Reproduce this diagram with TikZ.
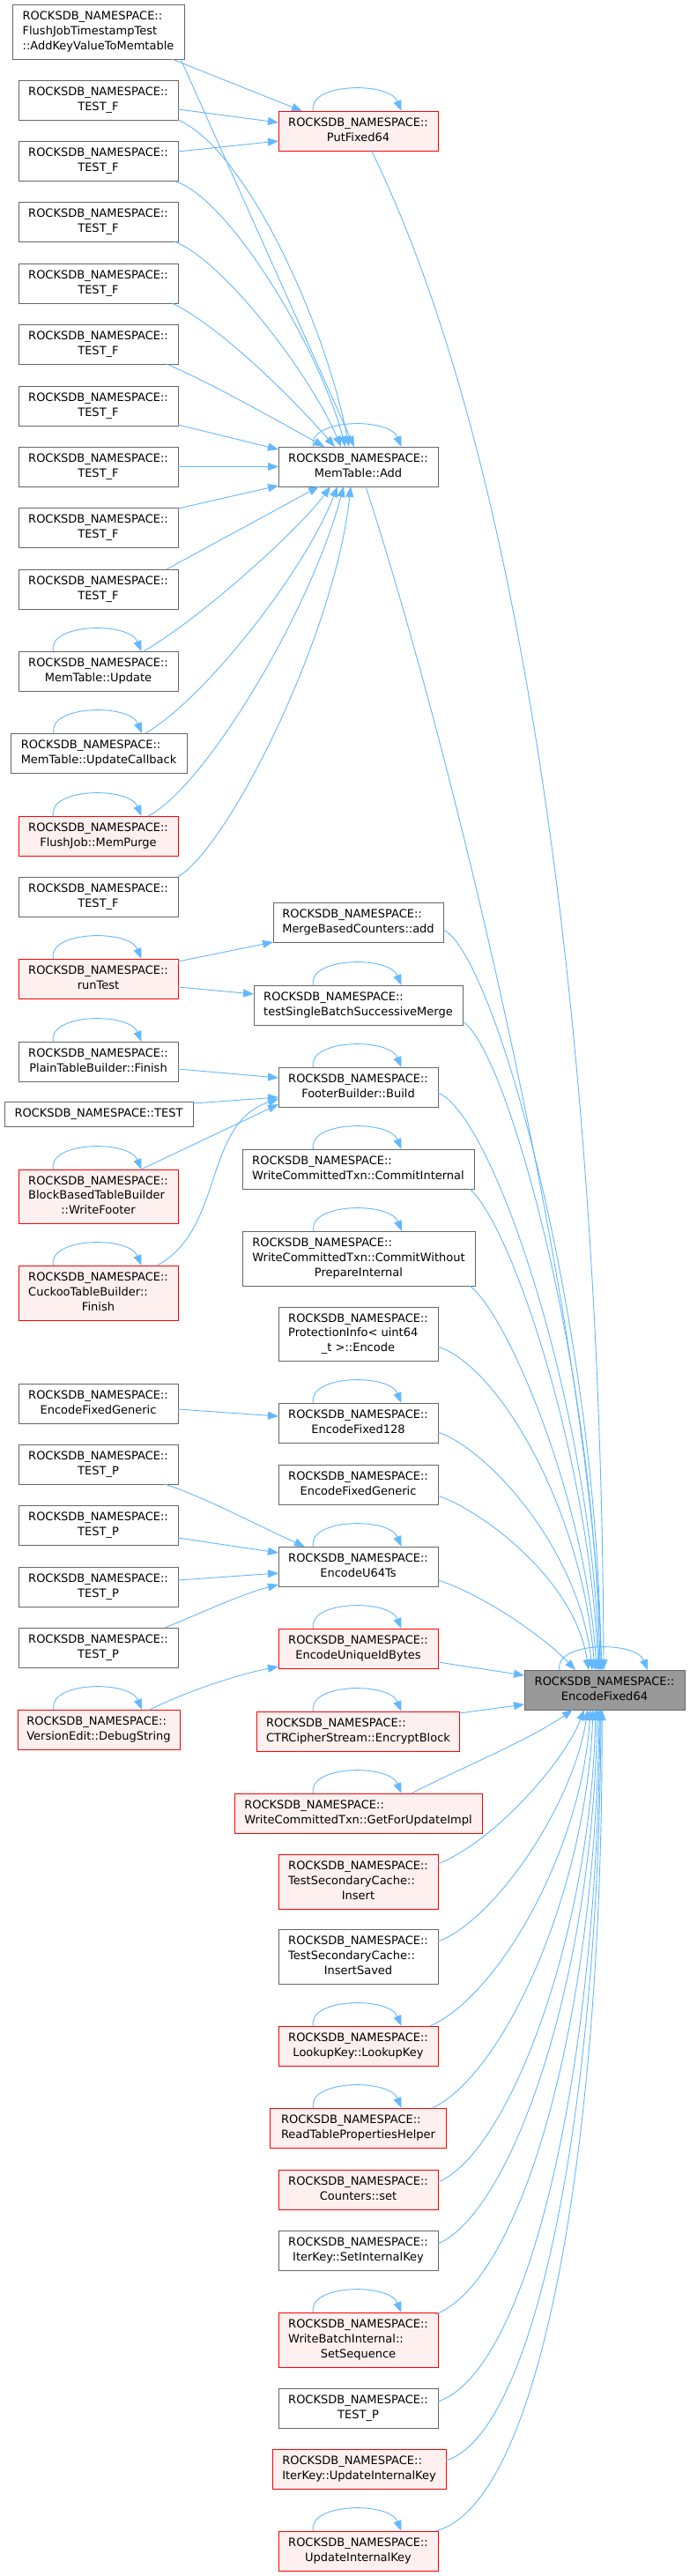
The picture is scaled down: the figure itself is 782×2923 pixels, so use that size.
\documentclass[tikz,border=0pt]{standalone}
\usepackage{fontspec}
\setmainfont{DejaVu Sans}
\usetikzlibrary{arrows.meta,calc}
\definecolor{edgeblue}{HTML}{63B8FF}
\definecolor{nodegray}{HTML}{666666}
\definecolor{redfill}{HTML}{FFF0F0}
\definecolor{hlfill}{HTML}{999999}
\newcommand\RNS{ROCKSDB\_NAMESPACE::}
\newcommand\TwoL[2]{\begin{tabular}{@{}l@{}}#1\\\multicolumn{1}{@{}c@{}}{#2}\end{tabular}}
\newcommand\ThreeL[3]{\begin{tabular}{@{}l@{}}#1\\#2\\\multicolumn{1}{@{}c@{}}{#3}\end{tabular}}
\newcommand\SelfLoop[1]{\draw[edge] ([xshift=-51pt]#1.north) .. controls +(-7,-32) and +(-14,-34) .. ([xshift=49pt]#1.north);}
\begin{document}
\begin{tikzpicture}[x=1pt,y=-1pt,
  box/.style={rectangle, draw=nodegray, fill=white, line width=1pt, inner sep=0pt, outer sep=0pt,
    font=\fontsize{13}{16.7}\selectfont, minimum width=181pt, minimum height=45pt},
  redbox/.style={box, draw=red, fill=redfill},
  hlbox/.style={box, draw=nodegray, fill=hlfill},
  tall/.style={minimum height=62pt},
  edge/.style={draw=edgeblue, line width=0.9pt, -{Triangle[length=12pt,width=9pt]}}]
\fill[white] (0,0) rectangle (782,2923);
\useasboundingbox (0,0) rectangle (782,2923);
% ---------- left column
\node[box, tall, minimum width=195pt] (fjt) at (111.5,36) {\ThreeL{\RNS}{FlushJobTimestampTest}{::AddKeyValueToMemtable}};
\node[box] (tfa) at (111.5,113.5) {\TwoL{\RNS}{TEST\_F}};
\node[box] (tfb) at (111.5,182.5) {\TwoL{\RNS}{TEST\_F}};
\node[box] (tfc) at (111.5,251.5) {\TwoL{\RNS}{TEST\_F}};
\node[box] (tfd) at (111.5,321.5) {\TwoL{\RNS}{TEST\_F}};
\node[box] (tfe) at (111.5,390.5) {\TwoL{\RNS}{TEST\_F}};
\node[box] (tff) at (111.5,460.5) {\TwoL{\RNS}{TEST\_F}};
\node[box] (tfg) at (111.5,529.5) {\TwoL{\RNS}{TEST\_F}};
\node[box] (tfh) at (111.5,598.5) {\TwoL{\RNS}{TEST\_F}};
\node[box] (tfi) at (111.5,668.5) {\TwoL{\RNS}{TEST\_F}};
\node[box] (upd) at (111.5,761.5) {\TwoL{\RNS}{MemTable::Update}};
\node[box, minimum width=200pt] (updcb) at (112,854.5) {\TwoL{\RNS}{MemTable::UpdateCallback}};
\node[redbox] (mempurge) at (111.5,948.5) {\TwoL{\RNS}{FlushJob::MemPurge}};
\node[box] (tfj) at (111.5,1017.5) {\TwoL{\RNS}{TEST\_F}};
\node[redbox] (runtest) at (111.5,1110.5) {\TwoL{\RNS}{runTest}};
\node[box] (ptbf) at (111.5,1204.5) {\TwoL{\RNS}{PlainTableBuilder::Finish}};
\node[box, minimum width=214pt, minimum height=28pt] (test) at (112,1264) {\RNS TEST};
\node[redbox, minimum height=61pt] (wfooter) at (111.5,1357.5) {\ThreeL{\RNS}{BlockBasedTableBuilder}{::WriteFooter}};
\node[redbox, tall] (cuckoo) at (111.5,1467) {\ThreeL{\RNS}{CuckooTableBuilder::}{Finish}};
\node[box] (efgl) at (111.5,1592.5) {\TwoL{\RNS}{EncodeFixedGeneric}};
\node[box] (tpa) at (111.5,1661.5) {\TwoL{\RNS}{TEST\_P}};
\node[box] (tpb) at (111.5,1730.5) {\TwoL{\RNS}{TEST\_P}};
\node[box] (tpc) at (111.5,1800.5) {\TwoL{\RNS}{TEST\_P}};
\node[box] (tpd) at (111.5,1869.5) {\TwoL{\RNS}{TEST\_P}};
\node[redbox, minimum width=184pt] (vedit) at (112,1962.5) {\TwoL{\RNS}{VersionEdit::DebugString}};
% ---------- middle column
\node[redbox] (pfx) at (406.5,148.5) {\TwoL{\RNS}{PutFixed64}};
\node[box] (add) at (406.5,529.5) {\TwoL{\RNS}{MemTable::Add}};
\node[box, minimum width=193pt] (mbc) at (406.5,1046.5) {\TwoL{\RNS}{MergeBasedCounters::add}};
\node[box, minimum width=237pt] (tsbsm) at (406.5,1140.5) {\TwoL{\RNS}{testSingleBatchSuccessiveMerge}};
\node[box] (fbb) at (406.5,1233.5) {\TwoL{\RNS}{FooterBuilder::Build}};
\node[box, minimum width=263pt] (wcci) at (406.5,1326.5) {\TwoL{\RNS}{WriteCommittedTxn::CommitInternal}};
\node[box, tall, minimum width=264pt] (wccwp) at (407,1428) {\ThreeL{\RNS}{WriteCommittedTxn::CommitWithout}{PrepareInternal}};
\node[box, minimum height=61pt] (prot) at (406.5,1513.5) {\ThreeL{\RNS}{ProtectionInfo< uint64}{\_t >::Encode}};
\node[box] (ef128) at (406.5,1614.5) {\TwoL{\RNS}{EncodeFixed128}};
\node[box] (efgr) at (406.5,1684.5) {\TwoL{\RNS}{EncodeFixedGeneric}};
\node[box] (u64) at (406.5,1777.5) {\TwoL{\RNS}{EncodeU64Ts}};
\node[redbox] (euib) at (406.5,1870.5) {\TwoL{\RNS}{EncodeUniqueIdBytes}};
\node[redbox, minimum width=230pt] (ctr) at (406.5,1964.5) {\TwoL{\RNS}{CTRCipherStream::EncryptBlock}};
\node[redbox, minimum width=281pt] (gfu) at (406.5,2057.5) {\TwoL{\RNS}{WriteCommittedTxn::GetForUpdateImpl}};
\node[redbox, tall] (tsci) at (406.5,2135) {\ThreeL{\RNS}{TestSecondaryCache::}{Insert}};
\node[box, tall] (tscis) at (406.5,2220) {\ThreeL{\RNS}{TestSecondaryCache::}{InsertSaved}};
\node[redbox] (lk) at (406.5,2321.5) {\TwoL{\RNS}{LookupKey::LookupKey}};
\node[redbox, minimum width=200pt] (rtph) at (406.5,2414.5) {\TwoL{\RNS}{ReadTablePropertiesHelper}};
\node[redbox] (cset) at (406.5,2484.5) {\TwoL{\RNS}{Counters::set}};
\node[box] (sik) at (406.5,2553.5) {\TwoL{\RNS}{IterKey::SetInternalKey}};
\node[redbox, tall] (sseq) at (406.5,2655) {\ThreeL{\RNS}{WriteBatchInternal::}{SetSequence}};
\node[box] (tpe) at (406.5,2732.5) {\TwoL{\RNS}{TEST\_P}};
\node[redbox, minimum width=197pt] (iuik) at (407.5,2801.5) {\TwoL{\RNS}{IterKey::UpdateInternalKey}};
\node[redbox] (uik) at (406.5,2894.5) {\TwoL{\RNS}{UpdateInternalKey}};
% ---------- target
\node[hlbox, minimum width=182pt] (e64) at (686,1917.5) {\TwoL{\RNS}{EncodeFixed64}};
% ---------- edges into PutFixed64
\draw[edge] ($(fjt.north west)+(181,62)$) -- ($(pfx.north west)+(27,0)$);
\draw[edge] ($(tfa.north west)+(181,33)$) -- ($(pfx.north west)+(0,13)$);
\draw[edge] ($(tfb.north west)+(181,12)$) -- ($(pfx.north west)+(0,34)$);
\SelfLoop{pfx}
% ---------- edges into MemTable::Add
\draw[edge] ($(fjt.north west)+(191,62)$) -- ($(add.north west)+(86,0)$);
\draw[edge] ($(tfa.north west)+(181,45)$) .. controls (280,170) and (370,370) .. ($(add.north west)+(80,0)$);
\draw[edge] ($(tfb.north west)+(179,46)$) .. controls (262,228) and (362,395) .. ($(add.north west)+(76,0)$);
\draw[edge] ($(tfc.north west)+(177,45)$) .. controls (255,297) and (352,425) .. ($(add.north west)+(71,0)$);
\draw[edge] ($(tfd.north west)+(174,45)$) .. controls (250,370) and (335,455) .. ($(add.north west)+(64,0)$);
\draw[edge] ($(tfe.north west)+(168,45)$) .. controls (240,435) and (320,480) .. ($(add.north west)+(52,0)$);
\draw[edge] ($(tff.north west)+(181,44)$) -- ($(add.north west)+(0,3)$);
\draw[edge] (tfg.east) -- (add.west);
\draw[edge] ($(tfh.north west)+(181,1)$) -- ($(add.north west)+(0,44)$);
\draw[edge] ($(tfi.north west)+(168,0)$) -- ($(add.north west)+(46,45)$);
\draw[edge] ($(upd.north west)+(142,0)$) .. controls (230,700) and (340,600) .. ($(add.north west)+(59,45)$);
\draw[edge] ($(updcb.north west)+(153,0)$) .. controls (230,795) and (345,650) .. ($(add.north west)+(67,45)$);
\draw[edge] ($(mempurge.north west)+(147,0)$) .. controls (230,895) and (350,700) .. ($(add.north west)+(74,45)$);
\draw[edge] ($(tfj.north west)+(181,0)$) .. controls (260,960) and (380,720) .. ($(add.north west)+(82,45)$);
\SelfLoop{add}
\SelfLoop{upd}
\SelfLoop{updcb}
\SelfLoop{mempurge}
% ---------- runTest
\draw[edge] ($(runtest.north west)+(181,3)$) -- (mbc.south west);
\draw[edge] ($(runtest.north west)+(181,32)$) -- ($(tsbsm.north west)+(0,10)$);
\SelfLoop{runtest}
\SelfLoop{tsbsm}
% ---------- FooterBuilder::Build
\draw[edge] ($(ptbf.north west)+(181,31)$) -- ($(fbb.north west)+(0,12)$);
\draw[edge] ($(test.north west)+(214,2)$) -- ($(fbb.north west)+(0,34)$);
\draw[edge] ($(wfooter.north west)+(139,0)$) -- ($(fbb.north west)+(0,42)$);
\draw[edge] ($(cuckoo.north west)+(157,0)$) .. controls (255,1395) and (230,1275) .. ($(fbb.north west)+(0,36)$);
\SelfLoop{ptbf}
\SelfLoop{wfooter}
\SelfLoop{cuckoo}
\SelfLoop{fbb}
\SelfLoop{wcci}
\SelfLoop{wccwp}
% ---------- EncodeFixed128 / EncodeU64Ts / EncodeUniqueIdBytes
\draw[edge] ($(efgl.north west)+(181,29)$) -- ($(ef128.north west)+(0,15)$);
\SelfLoop{ef128}
\draw[edge] ($(tpa.north west)+(166,45)$) .. controls (235,1700) and (290,1730) .. ($(u64.north west)+(30,0)$);
\draw[edge] ($(tpb.north west)+(181,37)$) -- ($(u64.north west)+(0,7)$);
\draw[edge] ($(tpc.north west)+(181,15)$) -- ($(u64.north west)+(0,30)$);
\draw[edge] ($(tpd.north west)+(166,0)$) .. controls (225,1832) and (270,1810) .. ($(u64.north west)+(0,43)$);
\SelfLoop{u64}
\draw[edge] ($(vedit.north west)+(150,0)$) .. controls (220,1915) and (280,1898) .. ($(euib.north west)+(0,43)$);
\SelfLoop{euib}
\SelfLoop{vedit}
\SelfLoop{ctr}
\SelfLoop{gfu}
\SelfLoop{lk}
\SelfLoop{rtph}
\SelfLoop{sseq}
\SelfLoop{uik}
% ---------- edges into EncodeFixed64 (top)
\draw[edge] ($(pfx.north west)+(105,44)$) .. controls (617,570) and (683,1300) .. ($(e64.north west)+(90,0)$);
\draw[edge] ($(add.north west)+(99,45)$) .. controls (513,852) and (670,1500) .. ($(e64.north west)+(88,0)$);
\draw[edge] ($(mbc.north west)+(193,31)$) .. controls (560,1080) and (678,1500) .. ($(e64.north west)+(87,0)$);
\draw[edge] ($(tsbsm.north west)+(237,41)$) .. controls (575,1190) and (675,1550) .. ($(e64.north west)+(86,0)$);
\draw[edge] ($(fbb.north west)+(181,29)$) .. controls (560,1265) and (672,1600) .. ($(e64.north west)+(85,0)$);
\draw[edge] ($(wcci.north west)+(258,45)$) .. controls (580,1390) and (668,1650) .. ($(e64.north west)+(84,0)$);
\draw[edge] ($(wccwp.north west)+(258,62)$) .. controls (575,1490) and (665,1700) .. ($(e64.north west)+(82,0)$);
\draw[edge] ($(prot.north west)+(181,45)$) .. controls (565,1550) and (660,1710) .. ($(e64.north west)+(80,0)$);
\draw[edge] ($(ef128.north west)+(181,33)$) .. controls (555,1645) and (658,1760) .. ($(e64.north west)+(77,0)$);
\draw[edge] ($(efgr.north west)+(181,35)$) .. controls (552,1717) and (653,1795) .. ($(e64.north west)+(73,0)$);
\draw[edge] ($(u64.north west)+(181,38)$) .. controls (545,1808) and (615,1855) .. ($(e64.north west)+(58,0)$);
% ---------- edges into EncodeFixed64 (left)
\draw[edge] ($(euib.north west)+(181,38)$) -- ($(e64.north west)+(0,6)$);
\draw[edge] ($(ctr.north east)+(0,2)$) -- ($(e64.north west)+(0,39)$);
% ---------- edges into EncodeFixed64 (bottom)
\draw[edge] ($(gfu.north west)+(201,0)$) .. controls (510,2012) and (600,1975) .. ($(e64.south west)+(55,0)$);
\draw[edge] ($(tsci.north east)+(0,11)$) .. controls (560,2090) and (640,2000) .. ($(e64.south west)+(68,0)$);
\draw[edge] ($(tscis.north east)+(0,14)$) .. controls (560,2180) and (650,2050) .. ($(e64.south west)+(72,0)$);
\draw[edge] ($(lk.north east)+(-9,0)$) .. controls (565,2265) and (660,2100) .. ($(e64.south west)+(75,0)$);
\draw[edge] ($(rtph.north east)+(-16,0)$) .. controls (570,2355) and (665,2150) .. ($(e64.south west)+(78,0)$);
\draw[edge] ($(cset.north east)+(0,14)$) .. controls (575,2445) and (670,2200) .. ($(e64.south west)+(81,0)$);
\draw[edge] ($(sik.north east)+(0,15)$) .. controls (580,2510) and (672,2250) .. ($(e64.south west)+(83,0)$);
\draw[edge] ($(sseq.north east)+(-3,2)$) .. controls (590,2590) and (675,2300) .. ($(e64.south west)+(85,0)$);
\draw[edge] ($(tpe.north east)+(0,15)$) .. controls (600,2690) and (678,2350) .. ($(e64.south west)+(86,0)$);
\draw[edge] ($(iuik.north east)+(0,13)$) .. controls (610,2760) and (680,2380) .. ($(e64.south west)+(87,0)$);
\draw[edge] ($(uik.north east)+(-3,0)$) .. controls (620,2840) and (685,2400) .. ($(e64.south west)+(88,0)$);
\SelfLoop{e64}
\end{tikzpicture}
\end{document}
